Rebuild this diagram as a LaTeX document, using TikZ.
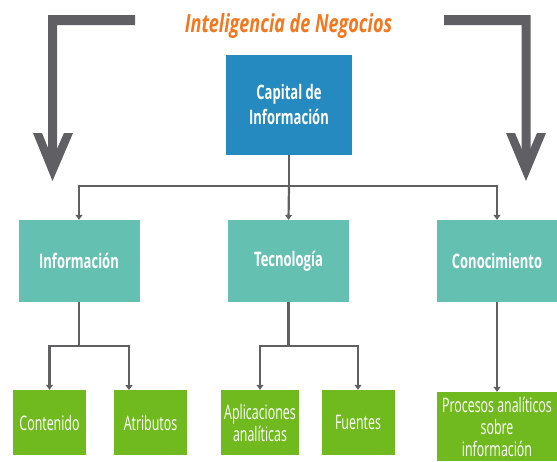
\documentclass[tikz,border=0pt]{standalone}
\usepackage{fontspec}
\usetikzlibrary{arrows.meta}
\newfontfamily\titlef[FakeStretch=0.72]{Open Sans}
\newfontfamily\capf[FakeStretch=0.65]{Open Sans}
\newfontfamily\midf[FakeStretch=0.65]{Open Sans}
\newfontfamily\lowf[FakeStretch=0.62]{Open Sans}
\definecolor{cblue}{RGB}{36,138,192}
\definecolor{cteal}{RGB}{100,193,178}
\definecolor{cgreen}{RGB}{112,185,30}
\definecolor{cgray}{RGB}{96,96,100}
\definecolor{corange}{RGB}{245,118,28}
\tikzset{
  box/.style={rectangle, inner sep=0pt, text=white, align=center},
  capbox/.style={box, fill=cblue, minimum width=126pt, minimum height=100pt, font=\capf\bfseries\fontsize{20}{25}\selectfont},
  midbox/.style={box, fill=cteal, minimum width=121pt, minimum height=82pt, font=\midf\bfseries\fontsize{20}{24}\selectfont},
  lowbox/.style={box, fill=cgreen, minimum width=73pt, minimum height=65pt, font=\lowf\fontsize{20}{22}\selectfont},
  conn/.style={draw=cgray, line width=2.2pt},
  arr/.style={conn, -{Triangle[width=7pt,length=5pt]}},
  bracket/.style={fill=cgray, draw=none}
}
\begin{document}
\begin{tikzpicture}[x=1pt,y=-1pt]
\useasboundingbox (0,0) rectangle (557,461);
% title
\node[text=corange, font=\titlef\bfseries\itshape\fontsize{25}{27}\selectfont, anchor=base] (title) at (288.5,32) {Inteligencia de Negocios};
% brackets
\fill[bracket] (48,15) -- (135,15) -- (135,25) -- (57,25) -- (57,161) -- (48,161) -- cycle;
\fill[bracket] (33,133) -- (52.5,181) -- (73,133) -- (64,133) -- (52.5,159) -- (42,133) -- cycle;
\fill[bracket] (444,15) -- (530.5,15) -- (530.5,161) -- (521.5,161) -- (521.5,25) -- (444,25) -- cycle;
\fill[bracket] (506,133) -- (526,181) -- (546,133) -- (537,133) -- (526,159) -- (515,133) -- cycle;
% nodes
\node[capbox] (cap) at (289,104.5) {Capital de\\Información};
\node[midbox] (info) at (79,261) {Información};
\node[midbox] (tec) at (288.5,261) {Tecnología};
\node[midbox, minimum width=120pt] (con) at (497,261) {Conocimiento};
\node[lowbox] (cont) at (49.5,422.5) {Contenido};
\node[lowbox] (atr) at (150.5,422.5) {Atributos};
\node[lowbox, minimum width=78pt] (apl) at (260,422.5) {Aplicaciones\\analíticas};
\node[lowbox] (fue) at (358,422.5) {Fuentes};
\node[lowbox, minimum width=120pt, minimum height=69pt] (pro) at (497,426.5) {Procesos analíticos\\sobre\\información};
% connectors
\coordinate (j1) at (289,186);
\draw[conn] (cap.south) -- (j1);
\draw[arr] (j1) -| (info.north);
\draw[arr] (j1) -- (tec.north);
\draw[arr] (j1) -| (con.north);
\coordinate (j2) at (79,346);
\coordinate (atrin) at (129,390);
\draw[conn] (info.south) -- (j2);
\draw[arr] (j2) -| (cont.north);
\draw[arr] (j2) -| (atrin);
\coordinate (j3) at (288.5,346);
\draw[conn] (tec.south) -- (j3);
\draw[arr] (j3) -| (apl.north);
\draw[arr] (j3) -| (fue.north);
\draw[arr] (con.south) -- (pro.north);
\end{tikzpicture}
\end{document}
